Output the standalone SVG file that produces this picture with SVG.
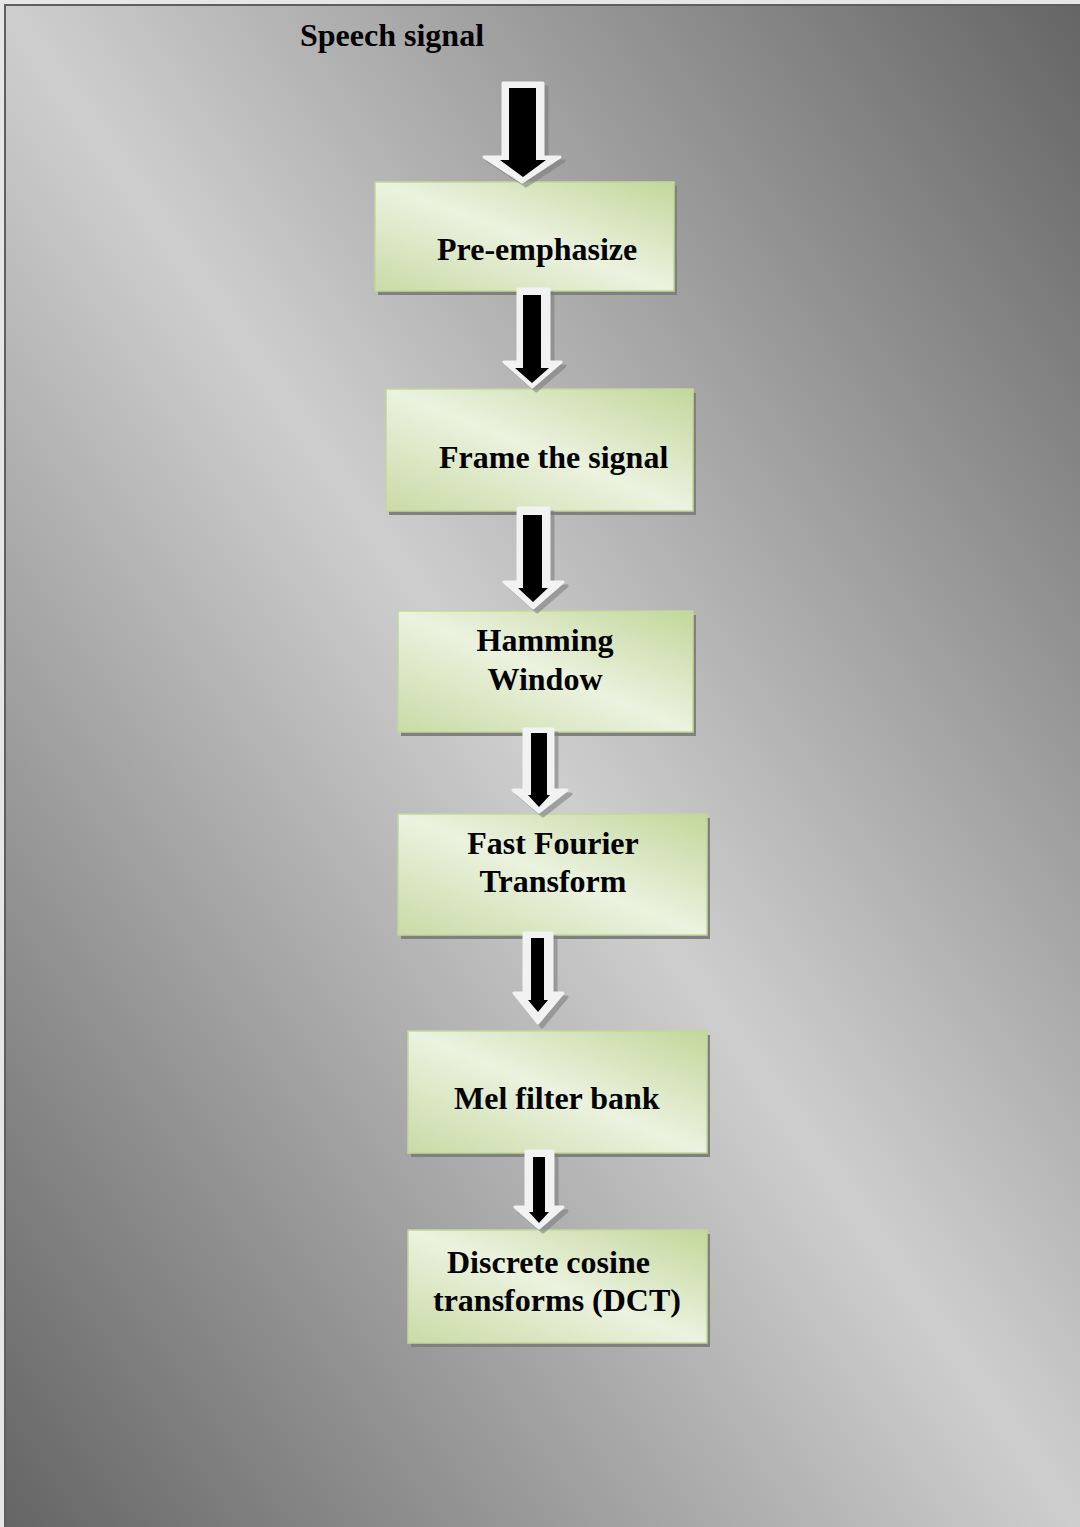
<svg xmlns="http://www.w3.org/2000/svg" width="1080" height="1527" viewBox="0 0 1080 1527">
<defs>
<linearGradient id="bg" x1="1" y1="0" x2="0" y2="1">
<stop offset="0" stop-color="#656565"/>
<stop offset="0.5" stop-color="#cecece"/>
<stop offset="1" stop-color="#656565"/>
</linearGradient>
<linearGradient id="boxg" x1="1" y1="0" x2="0" y2="1">
<stop offset="0" stop-color="#c3d79b"/>
<stop offset="0.5" stop-color="#ebf2df"/>
<stop offset="1" stop-color="#c9dba6"/>
</linearGradient>
<style>
.box{fill:url(#boxg);stroke:#c3d69b;stroke-width:1.5}
.shadow{fill:#808080}
.lbl{font-family:"Liberation Serif","Times New Roman",serif;font-weight:bold;font-size:32px;fill:#000}
.aw{fill:#f2f2f2;stroke:#f2f2f2;stroke-width:3;stroke-linejoin:round}
.as{fill:#7a7a7a;opacity:0.55;stroke:#7a7a7a;stroke-width:3;stroke-linejoin:round}
.ab{fill:#000}
</style>
</defs>
<rect x="0" y="0" width="1080" height="1527" fill="#e6e6e6"/>
<rect x="5" y="5" width="1075" height="1522" fill="url(#bg)"/>
<path d="M5,1527 V5 H1080" fill="none" stroke="#5f5f5f" stroke-width="2"/>
<text class="lbl" x="300" y="46" font-size="31">Speech signal</text>

<g id="node-preemphasize">
<rect class="shadow" x="378" y="186" width="299" height="109"/>
<rect class="box" x="375" y="182" width="299" height="109"/>
<text class="lbl" x="437" y="260">Pre-emphasize</text>
</g>
<g id="node-frame">
<rect class="shadow" x="389" y="393" width="307" height="122"/>
<rect class="box" x="386" y="389" width="307" height="122"/>
<text class="lbl" x="439" y="468">Frame the signal</text>
</g>
<g id="node-hamming">
<rect class="shadow" x="401" y="615" width="295" height="121"/>
<rect class="box" x="398" y="611" width="295" height="121"/>
<text class="lbl" x="545" y="651" text-anchor="middle">Hamming</text>
<text class="lbl" x="545" y="690" text-anchor="middle">Window</text>
</g>
<g id="node-fft">
<rect class="shadow" x="401" y="818" width="309" height="121"/>
<rect class="box" x="398" y="814" width="309" height="121"/>
<text class="lbl" x="553" y="854" text-anchor="middle">Fast Fourier</text>
<text class="lbl" x="553" y="892" text-anchor="middle">Transform</text>
</g>
<g id="node-mel">
<rect class="shadow" x="411" y="1035" width="299" height="122"/>
<rect class="box" x="408" y="1031" width="299" height="122"/>
<text class="lbl" x="454" y="1109">Mel filter bank</text>
</g>
<g id="node-dct">
<rect class="shadow" x="411" y="1234" width="299" height="113"/>
<rect class="box" x="408" y="1230" width="299" height="113"/>
<text class="lbl" x="447" y="1273">Discrete cosine</text>
<text class="lbl" x="433" y="1311">transforms (DCT)</text>
</g>

<g id="connectors">
<g transform="translate(4,4)"><polygon class="as" points="503,83 543,83 543,157 560,157 522,182 484,157 503,157"/></g>
<polygon class="aw" points="503,83 543,83 543,157 560,157 522,182 484,157 503,157"/>
<polygon class="ab" points="509,88 536,88 536,160 546,160 523,177 500,160 509,160"/>
<g transform="translate(4,4)"><polygon class="as" points="518,289 549,289 549,362 561,362 532,387 504,362 518,362"/></g>
<polygon class="aw" points="518,289 549,289 549,362 561,362 532,387 504,362 518,362"/>
<polygon class="ab" points="523,295 541,295 541,368 549,368 532,383 515,368 523,368"/>
<g transform="translate(4,4)"><polygon class="as" points="518,508 549,508 549,582 563,582 533,608 504,582 518,582"/></g>
<polygon class="aw" points="518,508 549,508 549,582 563,582 533,608 504,582 518,582"/>
<polygon class="ab" points="523,515 542,515 542,588 548,588 533,602 518,588 523,588"/>
<g transform="translate(4,4)"><polygon class="as" points="524,729 553,729 553,790 567,790 539,812 513,790 524,790"/></g>
<polygon class="aw" points="524,729 553,729 553,790 567,790 539,812 513,790 524,790"/>
<polygon class="ab" points="531,733 547,733 547,795 550,795 539,807 528,795 531,795"/>
<g transform="translate(4,4)"><polygon class="as" points="524,933 552,933 552,993 563,993 538,1023 514,993 524,993"/></g>
<polygon class="aw" points="524,933 552,933 552,993 563,993 538,1023 514,993 524,993"/>
<polygon class="ab" points="531,938 544,938 544,1000 548,1000 538,1012 528,1000 531,1000"/>
<g transform="translate(4,4)"><polygon class="as" points="526,1151 553,1151 553,1207 563,1207 539,1228 515,1207 526,1207"/></g>
<polygon class="aw" points="526,1151 553,1151 553,1207 563,1207 539,1228 515,1207 526,1207"/>
<polygon class="ab" points="533,1157 545,1157 545,1212 549,1212 539,1223 529,1212 533,1212"/>
</g>
</svg>
